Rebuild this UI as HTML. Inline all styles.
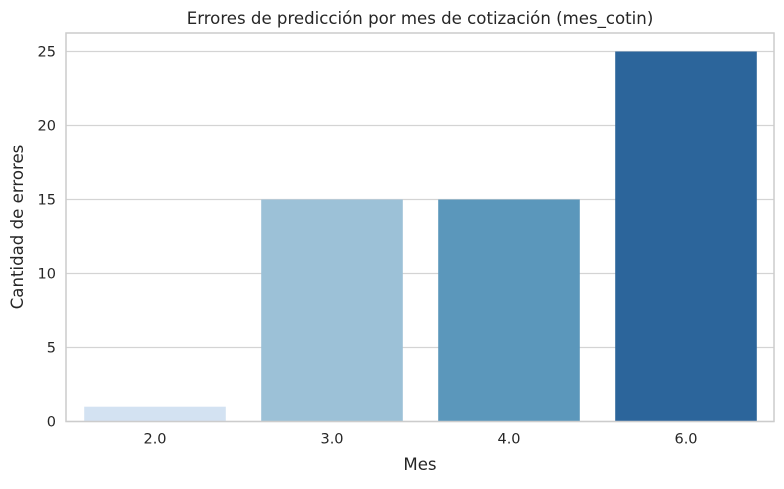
<!DOCTYPE html>
<html><head><meta charset="utf-8"><style>
body{margin:0;background:#fff;}
svg text{font-family:"DejaVu Sans","Liberation Sans",sans-serif;fill:#262626;}
</style></head><body>
<svg id="chart" width="784" height="484" xmlns="http://www.w3.org/2000/svg">
<text x="420" y="24" font-size="16.6" text-anchor="middle">Errores de predicción por mes de cotización (mes_cotin)</text>
<text x="420" y="470" font-size="16.6" text-anchor="middle">Mes</text>
<text transform="translate(23,227) rotate(-90)" font-size="16.6" text-anchor="middle">Cantidad de errores</text>
<g id="grid"></g><g id="bars"></g><g id="ticks"></g>
<rect x="66" y="33" width="708" height="388.5" fill="none" stroke="#cccccc" stroke-width="1.5"/>
</svg>
<script>
const categories=["2.0","3.0","4.0","6.0"];
const values=[1,15,15,25];
const colors=["#d3e2f2","#9cc1d7","#5b97bb","#2c659b"];
const yTicks=[0,5,10,15,20,25];
const L=66,R=774,B=421.5,T25=51.5;
const y=v=>B-(B-T25)*v/25;
const slot=(R-L)/categories.length;
const x=i=>L+slot*i;
const NS="http://www.w3.org/2000/svg";
const g=document.getElementById('grid'),bs=document.getElementById('bars'),tk=document.getElementById('ticks');
yTicks.forEach(t=>{
 const l=document.createElementNS(NS,'line');
 l.setAttribute('x1',L);l.setAttribute('x2',R);l.setAttribute('y1',y(t));l.setAttribute('y2',y(t));
 l.setAttribute('stroke','#d4d4d4');l.setAttribute('stroke-width','1.2');
 
 
 g.appendChild(l);
 const tx=document.createElementNS(NS,'text');
 tx.setAttribute('x',L-10);tx.setAttribute('y',y(t)+5);tx.setAttribute('text-anchor','end');tx.setAttribute('font-size','14.5');
 tx.textContent=t;
 
 
 tk.appendChild(tx);
});
categories.forEach((c,i)=>{
 const w=slot*0.8;
 const r=document.createElementNS(NS,'rect');
 r.setAttribute('x',x(i)+slot*0.1+0.5);r.setAttribute('width',w);
 r.setAttribute('y',y(values[i]));r.setAttribute('height',B-y(values[i]));
 r.setAttribute('fill',colors[i]);
 
 
 bs.appendChild(r);
 const tx=document.createElementNS(NS,'text');
 tx.setAttribute('x',x(i)+slot/2+0.5);tx.setAttribute('y',B+22);tx.setAttribute('text-anchor','middle');tx.setAttribute('font-size','14.5');
 tx.textContent=c;
 
 
 tk.appendChild(tx);
});
</script>
</body></html>
